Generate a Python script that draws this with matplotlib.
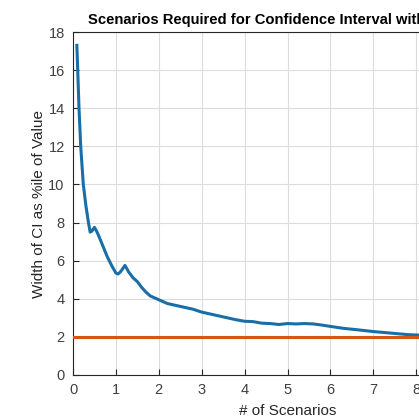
import matplotlib
matplotlib.use("Agg")
import matplotlib.pyplot as plt

x_vals = [0.09, 0.11, 0.14, 0.18, 0.24, 0.30, 0.36, 0.40, 0.44, 0.50, 0.55, 0.60, 0.70, 0.80,
          0.90, 1.00, 1.05, 1.10, 1.15, 1.21, 1.25, 1.30, 1.40, 1.50, 1.60, 1.70, 1.80, 1.90,
          2.00, 2.20, 2.40, 2.60, 2.80, 3.00, 3.20, 3.40, 3.60, 3.80, 4.00, 4.20, 4.40, 4.60,
          4.80, 5.00, 5.20, 5.40, 5.60, 5.80, 6.00, 6.30, 6.60, 7.00, 7.40, 7.80, 8.20]
ci_width = [17.3, 16.0, 14.0, 12.0, 10.0, 8.9, 8.0, 7.5, 7.55, 7.75, 7.55, 7.3, 6.75, 6.2,
            5.75, 5.35, 5.3, 5.4, 5.55, 5.75, 5.6, 5.4, 5.1, 4.9, 4.6, 4.35, 4.15, 4.05,
            3.95, 3.75, 3.65, 3.55, 3.45, 3.3, 3.2, 3.1, 3.0, 2.9, 2.82, 2.8, 2.72, 2.7,
            2.65, 2.7, 2.68, 2.7, 2.68, 2.62, 2.55, 2.45, 2.38, 2.28, 2.2, 2.12, 2.08]
target_width = 2.0
x_limits = (0, 10)
y_limits = (0, 18)
x_ticks = list(range(0, 11))
y_ticks = list(range(0, 19, 2))

plt.rcParams['font.family'] = ['Liberation Sans', 'DejaVu Sans']

fig = plt.figure(figsize=(4.19, 4.20), dpi=100)
ax = fig.add_axes([73/419, 45/420, 429/419, 343/420])

ax.plot(x_vals, ci_width, color='#1a6ea8', linewidth=2.2, zorder=3)
ax.axhline(target_width, color='#D95319', linewidth=2.2, zorder=3)

ax.set_xlim(*x_limits)
ax.set_ylim(*y_limits)
ax.set_xticks(x_ticks)
ax.set_yticks(y_ticks)
ax.grid(True, color='#dcdcdc', linewidth=0.8)
ax.set_axisbelow(True)
ax.tick_params(direction='in', length=4, labelsize=10.5, colors='#262626', labelcolor='#404040', pad=6)
for s in ax.spines.values():
    s.set_color('#262626')
    s.set_linewidth(0.8)

ax.set_xlabel('# of Scenarios', fontsize=11, color='#262626', labelpad=5)
ax.set_ylabel('Width of CI as %ile of Value', fontsize=11, color='#262626', labelpad=2)
fig.text(88/419, 1 - 20/420, 'Scenarios Required for Confidence Interval within 2%',
         fontsize=10.6, fontweight='bold', ha='left', va='center', color='#000000')

fig.savefig('out.png', dpi=100)
